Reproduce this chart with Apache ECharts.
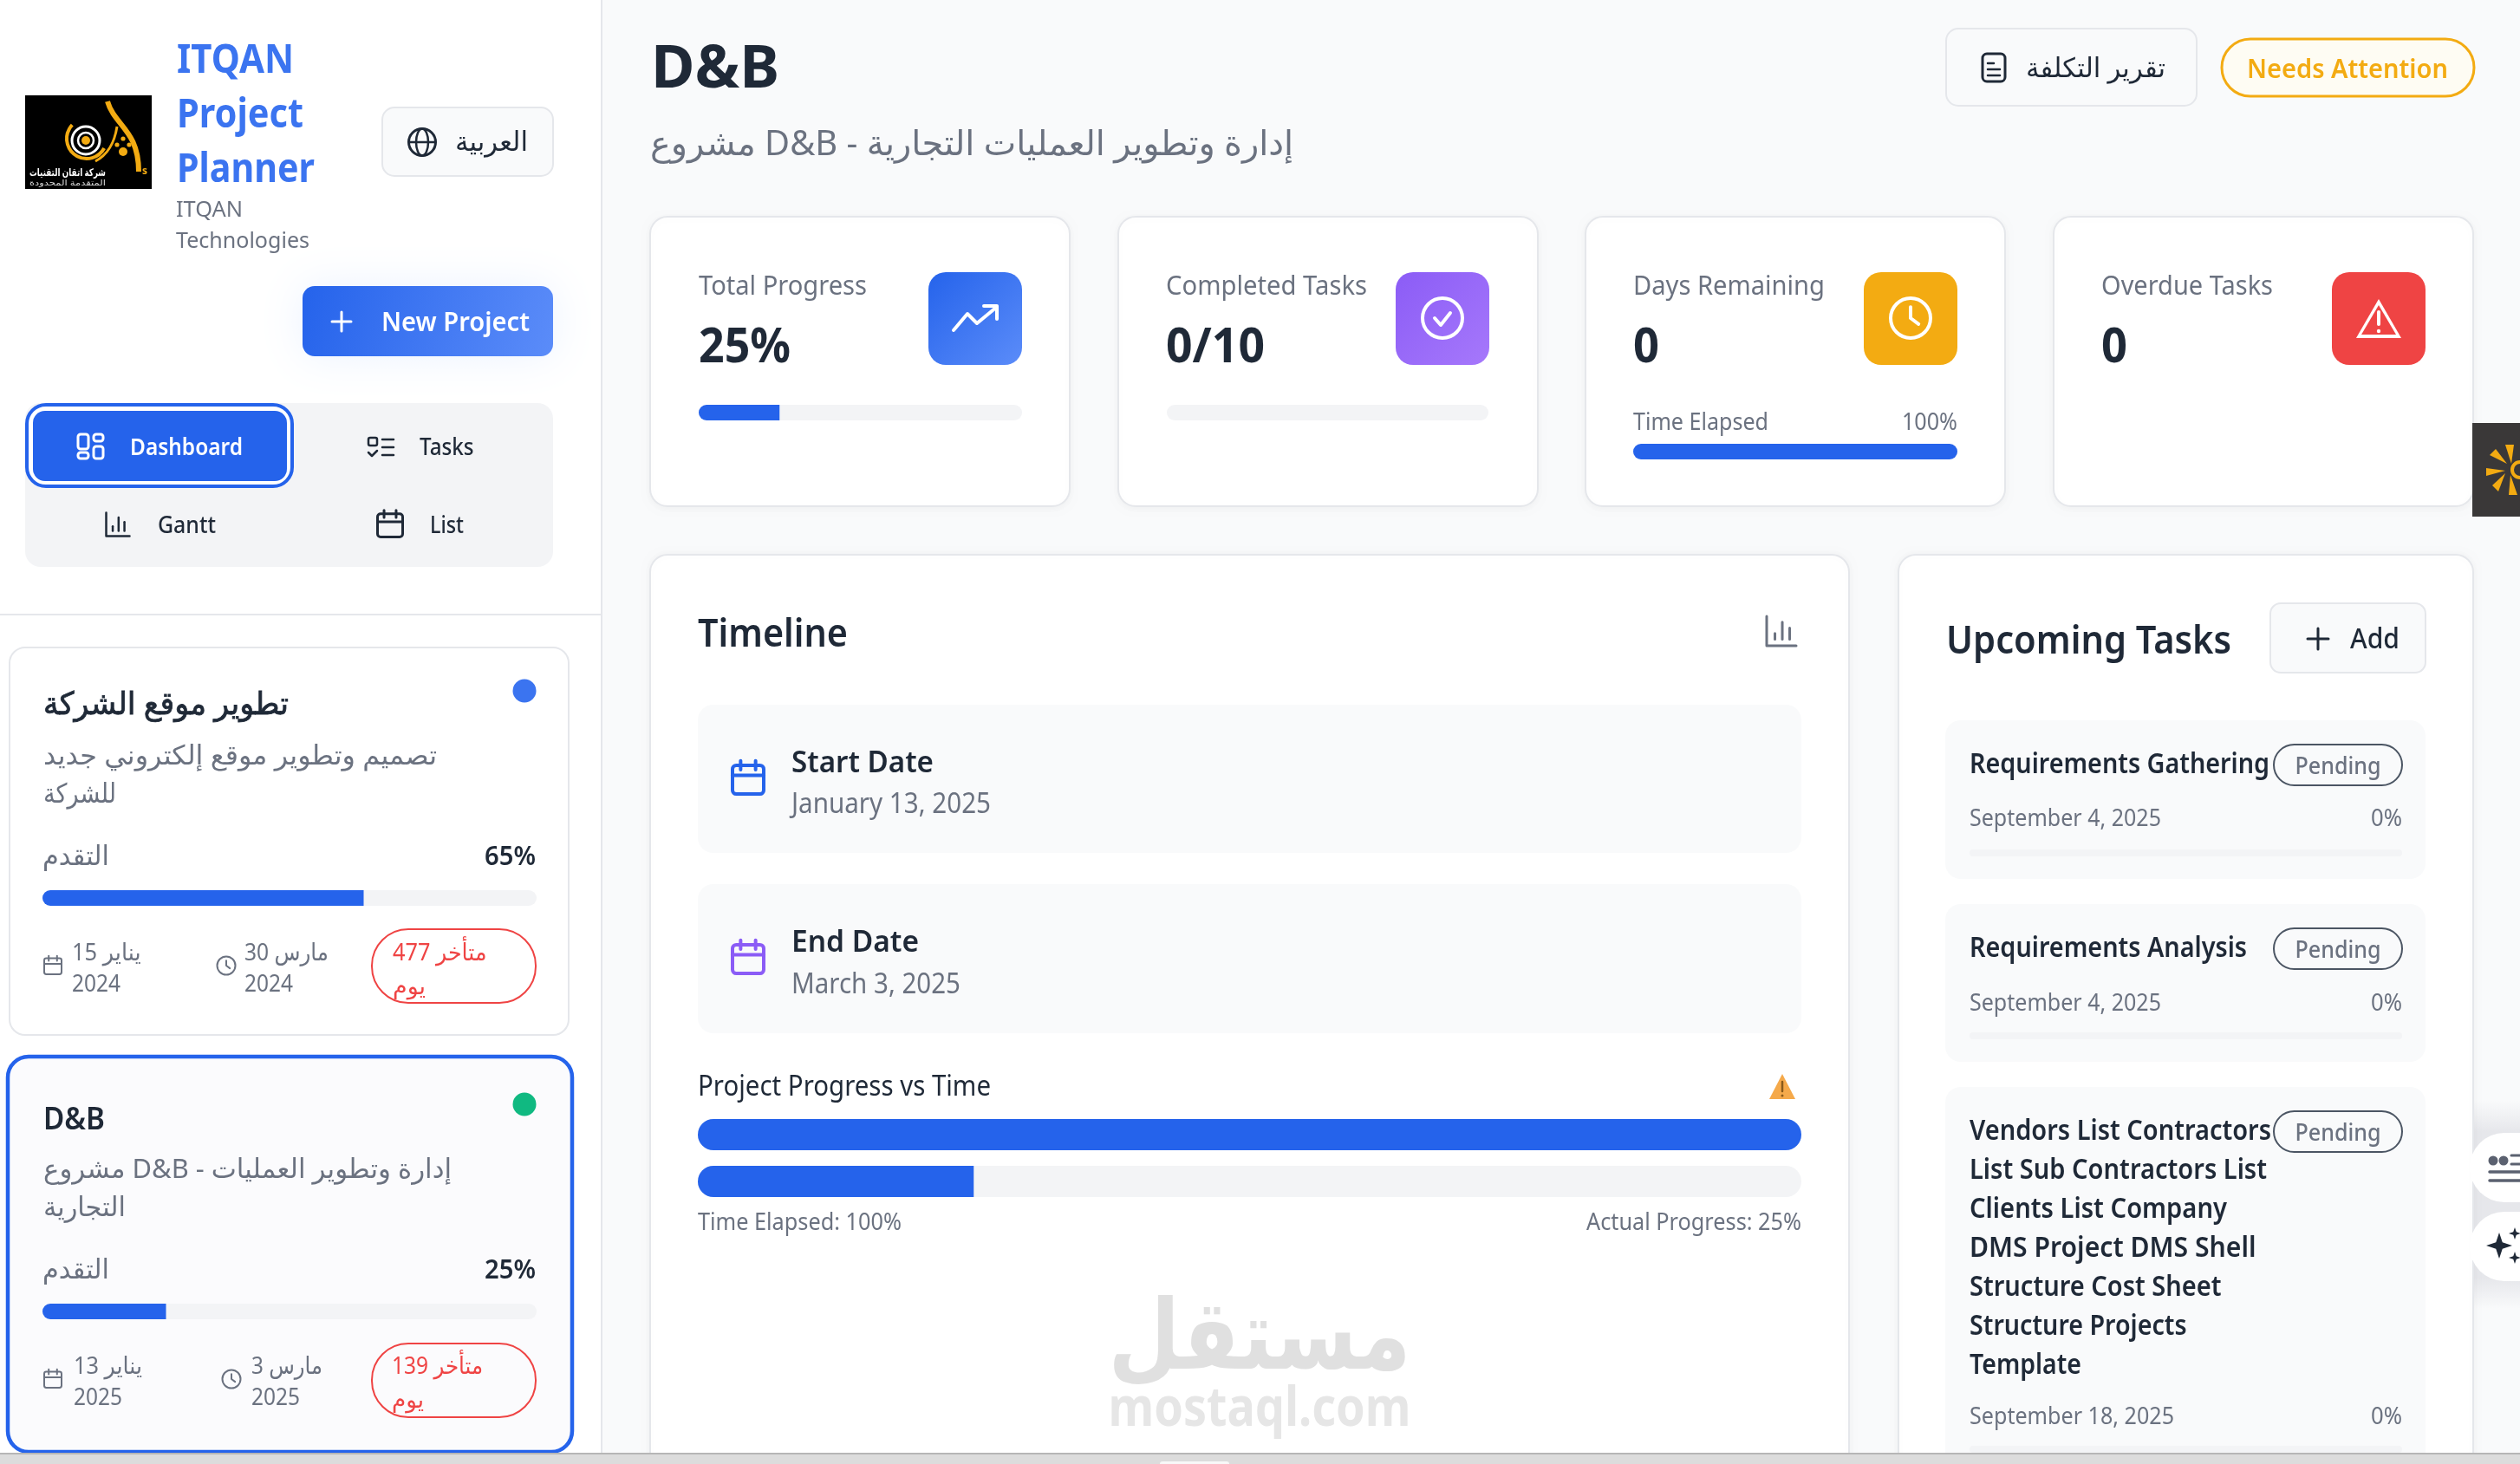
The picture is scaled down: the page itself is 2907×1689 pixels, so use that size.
<!DOCTYPE html>
<html>
<head>
<meta charset="utf-8">
<title>D&amp;B</title>
<style>
  html, body { margin: 0; padding: 0; background: #f9fafb; }
  #main { width: 2907px; height: 1689px; }
</style>
<script src="https://cdn.jsdelivr.net/npm/echarts@6/dist/echarts.min.js"></script>
</head>
<body>
<div id="main"></div>
<script>
// project list
var projectTitles = ['تطوير موقع الشركة', 'D&B'];
var projectDescLine1 = ['تصميم وتطوير موقع إلكتروني جديد', 'مشروع D&B - إدارة وتطوير العمليات'];
var projectDescLine2 = ['للشركة', 'التجارية'];
var projectProgress = [65, 25];
var projectStart = ['15 يناير', '13 يناير'];
var projectEnd = ['30 مارس', '3 مارس'];
var projectYears = ['2024', '2025'];
var projectLate = ['متأخر 477', 'متأخر 139'];

// top cards
var kpiLabels = ['Total Progress', 'Completed Tasks', 'Days Remaining', 'Overdue Tasks'];
var kpiValues = ['25%', '0/10', '0', '0'];
var kpiBars = [25, 0, 100];

// timeline
var timelineLabels = ['Time Elapsed', 'Actual Progress'];
var timelineBars = [100, 25];

// tasks
var taskNames = [
  ['Requirements Gathering'],
  ['Requirements Analysis'],
  ['Vendors List Contractors', 'List Sub Contractors List', 'Clients List Company', 'DMS Project DMS Shell', 'Structure Cost Sheet', 'Structure Projects', 'Template']
];
var taskDates = ['September 4, 2025', 'September 4, 2025', 'September 18, 2025'];
var taskProgress = [0, 0, 0];

var FONT = '"Noto Sans","DejaVu Sans",sans-serif';
var BLUE = '#2563eb';
var DARK = '#1f2937';
var GRAY = '#6b7280';
var LINE = '#e5e7eb';
var TRACK = '#f3f4f6';

var els = [];
var grids = [], xAxes = [], yAxes = [], series = [];
var measure = document.createElement('canvas').getContext('2d');

// o.w = width the text should take up in the page, the installed fonts run wider or narrower than the original
function txt(t, x, y, size, color, o) {
  o = o || {};
  var weight = o.weight || 400;
  var sx = 1;
  if (o.w) {
    measure.font = weight + ' ' + size + 'px ' + FONT;
    sx = o.w / measure.measureText(t).width;
  }
  var yy = y + size * 0.08;
  els.push({
    type: 'text', z: o.z || 10, silent: true,
    originX: x, originY: yy, scaleX: sx,
    style: {
      text: t, x: x, y: yy, fill: color,
      stroke: o.bold ? color : 'none', lineWidth: o.bold || 0,
      fontSize: size, fontWeight: weight, fontFamily: FONT,
      textAlign: o.align || 'left', textVerticalAlign: 'middle'
    }
  });
}
function box(x, y, w, h, r, fill, stroke, lw, o) {
  o = o || {};
  els.push({
    type: 'rect', z: o.z || 1, silent: true,
    shape: { x: x, y: y, width: w, height: h, r: r },
    style: {
      fill: fill || 'none', stroke: stroke || 'none', lineWidth: lw || 0,
      shadowBlur: o.blur || 0, shadowColor: o.shadow || 'transparent', shadowOffsetY: o.offY || 0
    }
  });
}
function ln(pts, color, lw, z) {
  els.push({
    type: 'polyline', z: z || 5, silent: true,
    shape: { points: pts },
    style: { stroke: color, lineWidth: lw, fill: 'none', lineCap: 'round', lineJoin: 'round' }
  });
}
function ring(cx, cy, r, fill, stroke, lw, o) {
  o = o || {};
  els.push({
    type: 'circle', z: o.z || 5, silent: true,
    shape: { cx: cx, cy: cy, r: r },
    style: { fill: fill || 'none', stroke: stroke || 'none', lineWidth: lw || 0 }
  });
}
function poly(pts, fill, z) {
  els.push({ type: 'polygon', z: z || 5, silent: true, shape: { points: pts }, style: { fill: fill } });
}
function grad(a, b) {
  return new echarts.graphic.LinearGradient(0, 0, 1, 1, [{ offset: 0, color: a }, { offset: 1, color: b }]);
}

// progress bar: one small grid per bar, 0-100 axis
function addBar(name, value, x, y, w, h) {
  var i = grids.length;
  var r = h / 2;
  grids.push({ left: x, top: y, width: w, height: h, containLabel: false });
  xAxes.push({ type: 'value', gridIndex: i, min: 0, max: 100, show: false });
  yAxes.push({ type: 'category', gridIndex: i, data: [name], show: false });
  series.push({
    type: 'bar', xAxisIndex: i, yAxisIndex: i, data: [value], barWidth: h, silent: true, z: 3,
    showBackground: true,
    backgroundStyle: { color: TRACK, borderRadius: r },
    itemStyle: { color: BLUE, borderRadius: value >= 100 ? r : [r, 0, 0, r] }
  });
}

function calendar(cx, cy, s, color, lw) {
  box(cx - s / 2, cy - s * 0.42, s, s * 0.92, s * 0.12, 'none', color, lw, { z: 5 });
  ln([[cx - s / 2, cy - s * 0.1], [cx + s / 2, cy - s * 0.1]], color, lw);
  ln([[cx - s * 0.24, cy - s * 0.56], [cx - s * 0.24, cy - s * 0.28]], color, lw);
  ln([[cx + s * 0.24, cy - s * 0.56], [cx + s * 0.24, cy - s * 0.28]], color, lw);
}
function clock(cx, cy, r, color, lw) {
  ring(cx, cy, r, 'none', color, lw);
  ln([[cx, cy - r * 0.55], [cx, cy], [cx + r * 0.4, cy + r * 0.3]], color, lw);
}
function chartIcon(cx, cy, s, color, lw) {
  ln([[cx - s / 2, cy - s / 2], [cx - s / 2, cy + s / 2], [cx + s / 2, cy + s / 2]], color, lw);
  ln([[cx - s * 0.22, cy + s * 0.28], [cx - s * 0.22, cy + s * 0.08]], color, lw);
  ln([[cx + s * 0.03, cy + s * 0.28], [cx + s * 0.03, cy - s * 0.3]], color, lw);
  ln([[cx + s * 0.28, cy + s * 0.28], [cx + s * 0.28, cy - s * 0.1]], color, lw);
}
function plus(cx, cy, s, color, lw) {
  ln([[cx - s, cy], [cx + s, cy]], color, lw);
  ln([[cx, cy - s], [cx, cy + s]], color, lw);
}

// page base
box(0, 0, 2907, 1689, 0, '#f9fafb', null, 0, { z: 0 });
box(0, 0, 694, 1689, 0, '#ffffff', null, 0, { z: 0 });
ln([[694, 0], [694, 1689]], LINE, 2, 1);
ln([[0, 709], [694, 709]], LINE, 2, 1);
// haze behind the two round side buttons
box(2853, 1270, 54, 240, 0, new echarts.graphic.LinearGradient(0, 0, 0, 1, [
  { offset: 0, color: 'rgba(230,231,235,0)' }, { offset: 0.15, color: '#e6e7eb' },
  { offset: 0.85, color: '#e6e7eb' }, { offset: 1, color: 'rgba(230,231,235,0)' }
]), null, 0, { z: 0 });

// logo
box(29, 110, 146, 108, 0, '#000000');
ring(99, 162, 16, 'none', '#ffffff', 3);
ring(99, 162, 9, 'none', '#ffffff', 2.5);
ring(99, 162, 5, '#f3ab12');
els.push({ type: 'arc', z: 5, silent: true, shape: { cx: 100, cy: 160, r: 23, startAngle: 0.5, endAngle: 3.9, clockwise: true }, style: { stroke: '#f3ab12', lineWidth: 4, fill: 'none' } });
els.push({ type: 'bezierCurve', z: 5, silent: true, shape: { x1: 124, y1: 117, cpx1: 132, cpy1: 145, cpx2: 160, cpy2: 150, x2: 160, y2: 198 }, style: { stroke: '#f3ab12', lineWidth: 6, fill: 'none' } });
els.push({ type: 'bezierCurve', z: 5, silent: true, shape: { x1: 110, y1: 186, cpx1: 125, cpy1: 178, cpx2: 132, cpy2: 165, x2: 135, y2: 146 }, style: { stroke: '#f3ab12', lineWidth: 3, fill: 'none' } });
ring(142, 160, 2.6, '#f3ab12'); ring(135, 167, 2.6, '#f3ab12'); ring(149, 167, 2.6, '#f3ab12'); ring(142, 175, 5, '#f3ab12');
txt('شركة اتقان التقنيات', 34, 199, 12, '#ffffff', { weight: 700, w: 88 });
txt('المتقدمة المحدودة', 34, 211, 9, '#d8d8d8', { w: 88 });
txt('s', 164, 197, 12, '#f3ab12', { weight: 700 });

// brand
txt('ITQAN', 204, 67, 46, '#3b74f0', { weight: 700, w: 135 });
txt('Project', 204, 130, 46, '#3b74f0', { weight: 700, w: 146 });
txt('Planner', 204, 193, 46, '#3b74f0', { weight: 700, w: 159 });
txt('ITQAN', 203, 241, 26, GRAY, { w: 77 });
txt('Technologies', 203, 277, 26, GRAY, { w: 154 });

// language button
box(441, 124, 197, 79, 14, '#f9fafb', LINE, 2);
ring(487, 164, 15.5, 'none', DARK, 3);
els.push({ type: 'ellipse', z: 5, silent: true, shape: { cx: 487, cy: 164, rx: 7, ry: 15.5 }, style: { fill: 'none', stroke: DARK, lineWidth: 2.5 } });
ln([[472, 164], [502, 164]], DARK, 2.5);
txt('العربية', 525, 163, 31, DARK, { w: 84 });

// new project
box(349, 330, 289, 81, 14, grad('#2563eb', '#5b8cf9'), null, 0, { blur: 50, shadow: 'rgba(59,130,246,0.10)' });
plus(394, 371, 11, '#ffffff', 3);
txt('New Project', 440, 371, 30, '#ffffff', { weight: 600, w: 171 });

// view tabs
box(29, 465, 609, 189, 18, TRACK);
box(31, 467, 306, 94, 22, '#ffffff', BLUE, 4, { z: 2 });
box(38, 474, 293, 81, 14, BLUE, null, 0, { z: 2 });
box(90, 501, 12, 17, 3, 'none', '#ffffff', 3, { z: 5 });
box(108, 501, 11, 8, 3, 'none', '#ffffff', 3, { z: 5 });
box(108, 515, 11, 14, 3, 'none', '#ffffff', 3, { z: 5 });
box(90, 522, 12, 7, 3, 'none', '#ffffff', 3, { z: 5 });
txt('Dashboard', 150, 515, 27, '#ffffff', { weight: 600, w: 130 });
box(425, 505, 10, 9, 2, 'none', DARK, 2.5, { z: 5 });
ln([[425, 522], [429, 526], [435, 520]], DARK, 2.5);
ln([[441, 507], [454, 507]], DARK, 2.5);
ln([[441, 516], [454, 516]], DARK, 2.5);
ln([[441, 525], [454, 525]], DARK, 2.5);
txt('Tasks', 484, 515, 27, DARK, { weight: 500, w: 62.5 });
chartIcon(136, 605, 27, DARK, 2.5);
txt('Gantt', 182, 605, 27, DARK, { weight: 500, w: 67 });
calendar(450, 605, 29, DARK, 3);
txt('List', 496, 605, 27, DARK, { weight: 500, w: 39 });

// project cards
var cardTop = [747, 1219];
var cardDots = ['#3b74f0', '#10b981'];
var titleW = [283, 71], desc1W = [454, 471], desc2W = [84, 95];
var startW = [79.5, 79], endW = [97, 82], lateW = [108.5, 105], dayW = [38, 37];
for (var p = 0; p < projectTitles.length; p++) {
  var t = cardTop[p];
  if (p === 0) {
    box(11, t, 645, 447, 18, '#ffffff', LINE, 2);
  } else {
    box(9, t, 651, 456, 24, '#fbfbfd', BLUE, 4.5);
  }
  var dy = p === 1 ? 5 : 0;
  var sx1 = p === 0 ? 83 : 85, sx2 = p === 0 ? 282 : 290, lx = p === 0 ? 453 : 452;
  if (p === 0) {
    txt(projectTitles[p], 50, t + 64, 36, DARK, { w: titleW[p], bold: 0.8 });
  } else {
    txt(projectTitles[p], 50, t + 66 + dy, 36, DARK, { weight: 600, w: titleW[p] });
  }
  ring(605, t + 50 + dy, 13.5, cardDots[p]);
  txt(projectDescLine1[p], 50, t + 124 + dy, 31, GRAY, { w: desc1W[p] });
  txt(projectDescLine2[p], 50, t + 168 + dy, 31, GRAY, { w: desc2W[p] });
  txt('التقدم', 49, t + 240 + dy, 31, GRAY, { w: 77 });
  txt(projectProgress[p] + '%', 618, t + 240 + dy, 30, DARK, { weight: 600, align: 'right', w: 59 });
  addBar(projectTitles[p], projectProgress[p], 49, t + 280 + dy, 570, 18);
  calendar(61, t + 367 + dy, 20, GRAY, 2);
  txt(projectStart[p], sx1, t + 351 + dy, 27, GRAY, { w: startW[p] });
  txt(projectYears[p], sx1, t + 387 + dy, 27, GRAY, { w: 56 });
  clock(p === 0 ? 261 : 267, t + 367 + dy, 10.5, GRAY, 2);
  txt(projectEnd[p], sx2, t + 351 + dy, 27, GRAY, { w: endW[p] });
  txt(projectYears[p], sx2, t + 387 + dy, 27, GRAY, { w: 56 });
  box(429, t + 325 + (p === 1 ? 6 : 0), 189, 85, 42, 'transparent', '#ef4444', 2, { z: 5 });
  txt(projectLate[p], lx, t + 351 + dy, 27, '#ef4444', { w: lateW[p] });
  txt('يوم', lx, t + 390 + dy, 27, '#ef4444', { w: dayW[p] });
}

// header
txt('D&B', 751, 76, 68, DARK, { weight: 700, w: 148 });
txt('مشروع D&B - إدارة وتطوير العمليات التجارية', 750, 164, 40, GRAY, { w: 742 });
box(2245, 33, 289, 89, 14, '#f9fafb', LINE, 2);
box(2287, 62, 26, 32, 5, 'none', DARK, 3, { z: 5 });
ln([[2293, 73], [2300, 73]], DARK, 2.5);
ln([[2293, 80], [2307, 80]], DARK, 2.5);
ln([[2293, 87], [2307, 87]], DARK, 2.5);
txt('تقرير التكلفة', 2337, 78, 31, DARK, { w: 161 });
box(2563, 45, 291, 66, 33, '#fefcf3', '#f3ab12', 3);
txt('Needs Attention', 2592, 79, 31, '#f3ab12', { weight: 600, w: 232 });

// top cards
var kpiX = [750, 1290, 1829, 2369];
var kpiTextX = [806, 1345, 1884, 2424];
var kpiIconX = [1071, 1610, 2150, 2690];
var kpiLabelW = [194, 232, 221, 198];
var kpiValueW = [106, 114, 30, 30];
var kpiTint = [['#2563eb', '#5b8cf9'], ['#8b5cf6', '#a678fb'], ['#f3ab12', '#f3ab12'], ['#ef4444', '#ef4444']];
for (var k = 0; k < kpiLabels.length; k++) {
  box(kpiX[k], 250, 484, 334, 20, '#ffffff', LINE, 2, { blur: 8, shadow: 'rgba(0,0,0,0.04)', offY: 2 });
  txt(kpiLabels[k], kpiTextX[k], 329, 31, GRAY, { w: kpiLabelW[k] });
  txt(kpiValues[k], kpiTextX[k], 398, 56, DARK, { weight: 700, w: kpiValueW[k] });
  box(kpiIconX[k], 314, 108, 107, 20, grad(kpiTint[k][0], kpiTint[k][1]), null, 0, { z: 3 });
}
addBar(kpiLabels[0], kpiBars[0], 806, 467, 373, 18);
addBar(kpiLabels[1], kpiBars[1], 1346, 467, 371, 18);
txt('Time Elapsed', 1884, 486, 27, GRAY, { w: 156 });
txt(kpiBars[2] + '%', 2258, 486, 27, GRAY, { align: 'right', w: 64 });
addBar(kpiLabels[2], kpiBars[2], 1884, 512, 374, 18);

// card icons
ln([[1100, 381], [1116, 362], [1127, 373], [1150, 354]], '#ffffff', 4);
ln([[1135, 353], [1150, 353], [1150, 368]], '#ffffff', 4);
ring(1664, 367, 23, 'none', '#ffffff', 4);
ln([[1655, 367], [1662, 375], [1673, 361]], '#ffffff', 4);
clock(2204, 367, 23, '#ffffff', 4);
poly([[2744, 345], [2770, 390], [2718, 390]], '#ffffff', 5);
poly([[2744, 352], [2764, 386], [2724, 386]], '#ef4444', 6);
ln([[2744, 360], [2744, 374]], '#ffffff', 4, 7);
ring(2744, 382, 2.2, '#ffffff', null, 0, { z: 7 });

// timeline card
box(750, 640, 1383, 1060, 20, '#ffffff', LINE, 2, { blur: 8, shadow: 'rgba(0,0,0,0.04)' });
txt('Timeline', 805, 730, 45, DARK, { weight: 600, w: 173 });
chartIcon(2055, 728, 34, GRAY, 3);
box(805, 813, 1273, 171, 18, '#f9fafb');
box(805, 1020, 1273, 172, 18, '#f9fafb');
calendar(863, 898, 36, BLUE, 4);
txt('Start Date', 913, 878, 35, DARK, { weight: 600, w: 164 });
txt('January 13, 2025', 913, 926, 32, GRAY, { w: 230 });
calendar(863, 1105, 36, '#8b5cf6', 4);
txt('End Date', 913, 1085, 35, DARK, { weight: 600, w: 147 });
txt('March 3, 2025', 913, 1134, 32, GRAY, { w: 195 });
txt('Project Progress vs Time', 805, 1252, 32, DARK, { w: 338 });
poly([[2056, 1239], [2071, 1268], [2041, 1268]], '#f5a94a');
ln([[2056, 1248], [2056, 1259]], '#8a5a1a', 2.5, 6);
ring(2056, 1264, 1.5, '#8a5a1a', null, 0, { z: 6 });
addBar(timelineLabels[0], timelineBars[0], 805, 1291, 1273, 36);
addBar(timelineLabels[1], timelineBars[1], 805, 1345, 1273, 36);
txt(timelineLabels[0] + ': ' + timelineBars[0] + '%', 805, 1409, 27, GRAY, { w: 235 });
txt(timelineLabels[1] + ': ' + timelineBars[1] + '%', 2078, 1409, 27, GRAY, { align: 'right', w: 248 });
// watermark
txt('مستقل', 1453, 1538, 112, '#e0e0e0', { weight: 700, align: 'center', w: 349 });
txt('mostaql.com', 1453, 1622, 62, '#e6e6e6', { weight: 700, align: 'center', w: 349 });

// tasks card
box(2190, 640, 663, 1060, 20, '#ffffff', LINE, 2, { blur: 8, shadow: 'rgba(0,0,0,0.04)' });
txt('Upcoming Tasks', 2245, 738, 45, DARK, { weight: 600, w: 329 });
box(2619, 696, 179, 80, 12, '#f9fafb', LINE, 2);
plus(2674, 737, 12, DARK, 3);
txt('Add', 2711, 736, 32, DARK, { weight: 500, w: 57 });

var taskBoxTop = [831, 1043, 1254];
var taskBoxH = [183, 182, 440];
var taskDateY = [944, 1157, 1634];
var taskBarY = [980, 1191, 1668];
var taskNameW = [[346], [320], [348, 343, 297, 330.5, 290.5, 250.6, 129]];
var taskDateW = [221, 221, 236];
for (var j = 0; j < taskNames.length; j++) {
  var boxTop = taskBoxTop[j];
  box(2244, boxTop, 554, taskBoxH[j], 18, '#f9fafb');
  for (var n = 0; n < taskNames[j].length; n++) {
    txt(taskNames[j][n], 2272, boxTop + 49 + n * 45, 32, DARK, { weight: 600, w: taskNameW[j][n] });
  }
  box(2623, boxTop + 28, 148, 47, 23.5, 'transparent', '#4b5563', 2, { z: 5 });
  txt('Pending', 2697, boxTop + 52, 27, GRAY, { align: 'center', weight: 500, w: 99 });
  txt(taskDates[j], 2272, taskDateY[j] - 1, 27, GRAY, { w: taskDateW[j] });
  txt(taskProgress[j] + '%', 2771, taskDateY[j] - 1, 27, GRAY, { align: 'right', w: 36 });
  addBar(taskNames[j][0], taskProgress[j], 2272, taskBarY[j], 499, 8);
}

// side widgets
box(2852, 488, 55, 108, 0, '#3a3838', null, 0, { z: 6 });
var rays = [[2897, 535, 2890, 513, 2900, 513], [2892, 535, 2872, 525, 2879, 518], [2890, 543, 2868, 540, 2868, 549], [2890, 546, 2875, 560, 2882, 567], [2896, 548, 2894, 571, 2904, 571]];
for (var q = 0; q < rays.length; q++) {
  poly([[rays[q][0], rays[q][1]], [rays[q][2], rays[q][3]], [rays[q][4], rays[q][5]]], '#f3ab12', 7);
}
ring(2907, 542, 9, 'none', '#f3ab12', 4, { z: 7 });
ring(2889, 1347, 40, '#ffffff', null, 0, { z: 6 });
box(2889, 1307, 18, 80, 0, '#ffffff', null, 0, { z: 6 });
ring(2889, 1438, 40, '#ffffff', null, 0, { z: 6 });
box(2889, 1398, 18, 80, 0, '#ffffff', null, 0, { z: 6 });
ring(2876, 1339, 5.5, '#5b6170', null, 0, { z: 7 }); ring(2888, 1339, 5.5, '#5b6170', null, 0, { z: 7 });
ln([[2897, 1333], [2907, 1333]], '#5b6170', 3, 7);
ln([[2897, 1343], [2907, 1343]], '#5b6170', 3, 7);
ln([[2872, 1352], [2907, 1352]], '#5b6170', 3.5, 7);
ln([[2872, 1362], [2907, 1362]], '#5b6170', 3.5, 7);
function spark(x, y, s) {
  poly([[x, y - s], [x + s * 0.25, y - s * 0.25], [x + s, y], [x + s * 0.25, y + s * 0.25], [x, y + s], [x - s * 0.25, y + s * 0.25], [x - s, y], [x - s * 0.25, y - s * 0.25]], DARK, 7);
}
spark(2883, 1437, 15);
spark(2901, 1423, 7);
spark(2901, 1451, 7);

// browser strip at the bottom edge
box(0, 1677, 2907, 12, 0, '#dcdcdc', null, 0, { z: 20 });
ln([[0, 1677], [2907, 1677]], '#b6b6b6', 2, 21);
box(1338, 1686, 80, 6, 3, '#f8f8f8', null, 0, { z: 21 });

var myChart = echarts.init(document.getElementById('main'), null, { renderer: 'canvas', width: 2907, height: 1689 });
myChart.setOption({
  animation: false,
  backgroundColor: '#f9fafb',
  grid: grids,
  xAxis: xAxes,
  yAxis: yAxes,
  series: series,
  graphic: { elements: els }
});
</script>
</body>
</html>
